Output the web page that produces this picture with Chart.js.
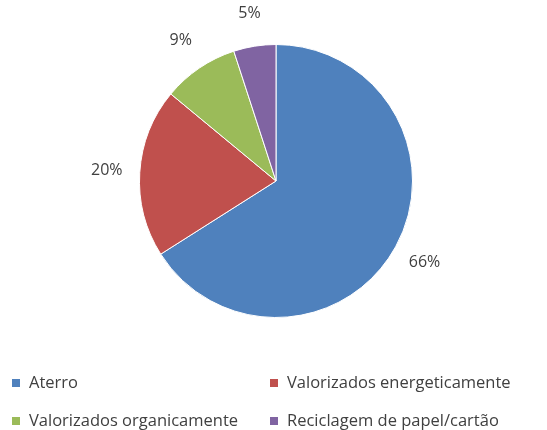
<!DOCTYPE html>
<html>
<head>
<meta charset="utf-8">
<script src="https://cdn.jsdelivr.net/npm/chart.js@4"></script>
<style>
  html, body { margin: 0; padding: 0; background: #fff; }
  #wrap { width: 547px; height: 430px; position: relative; }
</style>
</head>
<body>
<div id="wrap"><canvas id="pieChart" width="547" height="430"></canvas></div>
<script>
// Datos del grafico
const categorias = ['Aterro', 'Valorizados energeticamente', 'Valorizados organicamente', 'Reciclagem de papel/cartão'];
const valores = [66, 20, 9, 5];
const colores = ['#4F81BD', '#C0504D', '#9BBB59', '#8064A2'];

const fuente = '"Open Sans", "DejaVu Sans", sans-serif';
const colorTexto = '#404040';

// Etiquetas de porcentaje fuera de cada sector
const etiquetasPorcentaje = {
    id: 'etiquetasPorcentaje',
    afterDatasetsDraw(chart) {
        const ctx = chart.ctx;
        const meta = chart.getDatasetMeta(0);
        const total = valores.reduce((a, b) => a + b, 0);
        ctx.save();
        ctx.font = '16px ' + fuente;
        ctx.fillStyle = colorTexto;
        ctx.textAlign = 'center';
        ctx.textBaseline = 'middle';
        meta.data.forEach((arc, i) => {
            const medio = (arc.startAngle + arc.endAngle) / 2;
            const r = arc.outerRadius + 33;
            const x = arc.x + Math.cos(medio) * r;
            const y = arc.y + Math.sin(medio) * r;
            ctx.fillText(Math.round(valores[i] / total * 100) + '%', x, y);
        });
        ctx.restore();
    }
};

// Leyenda en dos columnas abajo
const leyendaDosColumnas = {
    id: 'leyendaDosColumnas',
    afterDraw(chart) {
        const ctx = chart.ctx;
        const columnas = [12, 270];
        const filas = [383, 421];
        ctx.save();
        ctx.font = '16.5px ' + fuente;
        ctx.textBaseline = 'middle';
        categorias.forEach((cat, i) => {
            const x = columnas[i % 2];
            const y = filas[Math.floor(i / 2)];
            ctx.fillStyle = colores[i];
            ctx.fillRect(x, y - 4, 8, 8);
            ctx.fillStyle = colorTexto;
            ctx.fillText(cat, x + 17, y);
        });
        ctx.restore();
    }
};

const ctx = document.getElementById('pieChart').getContext('2d');
new Chart(ctx, {
    type: 'pie',
    data: {
        labels: categorias,
        datasets: [{
            data: valores,
            backgroundColor: colores,
            borderColor: '#ffffff',
            borderWidth: 1,
            hoverOffset: 0
        }]
    },
    options: {
        responsive: false,
        animation: false,
        layout: {
            padding: { left: 139, right: 134, top: 43, bottom: 111 }
        },
        plugins: {
            legend: { display: false },
            tooltip: { enabled: false }
        }
    },
    plugins: [etiquetasPorcentaje, leyendaDosColumnas]
});
</script>
</body>
</html>
